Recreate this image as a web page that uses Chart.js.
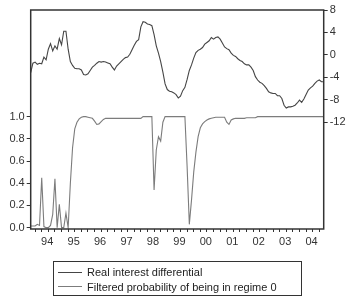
<!DOCTYPE html>
<html>
<head>
<meta charset="utf-8">
<script src="https://cdn.jsdelivr.net/npm/chart.js@4.4.1/dist/chart.umd.min.js"></script>
<style>
  html, body { margin: 0; padding: 0; background: #fff; }
  #wrap { position: relative; width: 356px; height: 297px; }
  #legend { position: absolute; left: 53px; top: 261px; width: 249px; height: 35px; box-sizing: border-box;
    border: 1px solid #333; padding-top: 3px; font: 11px "Liberation Sans", Arial, sans-serif; color: #222; }
  .item { display: flex; align-items: center; height: 14.5px; white-space: nowrap; }
  .swatch { width: 24px; height: 0; border-top: 1px solid; margin: 0 5px 0 4px; }
</style>
</head>
<body>
<div id="wrap">
  <canvas id="chart" width="356" height="297"></canvas>
  <div id="legend"></div>
</div>
<script>
// monthly observations, first one 1993M11
const startYear = 1993;
const startMonth = 11;

const yearLabels = ['94', '95', '96', '97', '98', '99', '00', '01', '02', '03', '04'];
const years = [1994, 1995, 1996, 1997, 1998, 1999, 2000, 2001, 2002, 2003, 2004];
const probTicks = [0, 0.2, 0.4, 0.6, 0.8, 1.0];
const irdTicks = [8, 4, 0, -4, -8, -12];

const irdValues = [
  -3.2, -1.5, -1.3, -1.7, -1.5, -1.6, -0.4, -0.9, 1.0, 2.0,
  0.7, 1.6, 1.0, 2.9, 1.8, 4.2, 4.2, 1.0, -1.2, -1.9,
  -2.4, -2.5, -2.5, -2.7, -3.5, -3.6, -3.4, -2.8, -2.2, -1.9,
  -1.5, -1.2, -1.3, -1.2, -1.3, -1.45,
  -1.6, -2.2, -2.7, -2.0, -1.6, -1.2, -0.8, -0.5, -0.4, 0.1,
  0.9, 1.7, 2.4, 2.7, 5.0, 5.9, 5.8, 5.5, 5.4, 5.2,
  3.6, 1.6, 0.3, -1.2, -3.1, -5.2, -6.2, -6.5, -6.6, -6.8,
  -7.1, -7.7, -7.4, -6.4, -5.8, -4.4, -2.8, -1.8, -0.6, 0.4,
  0.8, 1.0, 1.3, 1.9, 2.2, 2.5, 3.1, 2.8, 3.1, 3.2,
  2.8, 2.1, 1.4, 1.1, 0.9, 0.3, -0.1, -0.3, -0.7, -1.0,
  -1.2, -1.6, -1.8, -1.8, -2.2, -2.8, -3.9, -4.5, -4.9, -5.1,
  -5.5, -6.0, -6.6, -6.8, -6.9, -6.9, -7.3, -7.3, -7.8, -9.0,
  -9.5, -9.3, -9.3, -9.2, -9.0, -8.6, -8.1, -8.5, -7.9, -7.1,
  -6.3, -5.9, -5.6, -5.1, -4.7, -4.5, -4.8, -4.8
];

const probValues = [
  0.015, 0.015, 0.015, 0.03, 0.02, 0.45, 0.01, 0.0, 0.0, 0.02,
  0.12, 0.44, 0.0, 0.21, 0.0, 0.0, 0.13, 0.0,
  0.4, 0.72, 0.89, 0.95, 0.98, 0.995, 1.0, 1.0, 0.995, 0.99,
  0.985, 0.96, 0.93, 0.935, 0.955, 0.975, 0.985, 0.985,
  0.985, 0.985, 0.985, 0.985, 0.985, 0.985, 0.985, 0.985, 0.985, 0.985,
  0.985, 0.985, 0.985, 0.985, 0.985,
  1.0, 1.0, 1.0, 1.0, 1.0,
  0.34, 0.7, 0.82, 0.78, 0.95,
  1.0, 1.0, 1.0, 1.0, 1.0, 1.0, 1.0, 1.0, 1.0, 1.0,
  0.55, 0.03, 0.25, 0.5, 0.68, 0.82, 0.9, 0.935, 0.955, 0.97,
  0.98, 0.985, 0.99,
  0.995, 0.995, 0.995, 0.995, 0.995,
  0.95, 0.93, 0.97, 0.98,
  0.985, 0.985, 0.985, 0.985, 0.985,
  0.99, 0.99, 0.99, 0.99, 0.99,
  1.0, 1.0, 1.0, 1.0, 1.0, 1.0, 1.0, 1.0, 1.0, 1.0,
  1.0, 1.0, 1.0, 1.0, 1.0, 1.0, 1.0, 1.0, 1.0, 1.0,
  1.0, 1.0, 1.0, 1.0, 1.0, 1.0, 1.0, 1.0, 1.0, 1.0, 1.0
];

const months = irdValues.map((_, j) => startYear + (startMonth - 1 + j) / 12);
const yearCentre = (y) => y + 5.5 / 12;

const axisColor = '#333';
const tickFont = { family: '"Liberation Sans", Arial, sans-serif', size: 11 };

const frame = {
  id: 'frame',
  afterDraw(chart) {
    const { ctx, chartArea: a } = chart;
    ctx.save();
    ctx.strokeStyle = axisColor;
    ctx.lineWidth = 1.5;
    ctx.strokeRect(a.left, a.top, a.right - a.left, a.bottom - a.top);
    ctx.restore();
  },
};

const chart = new Chart(document.getElementById('chart'), {
  type: 'line',
  data: {
    datasets: [
      { label: 'Real interest differential', data: months.map((m, j) => ({ x: m, y: irdValues[j] })), yAxisID: 'yR',
        borderColor: '#454545', borderWidth: 1.1, pointRadius: 0, tension: 0 },
      { label: 'Filtered probability of being in regime 0', data: months.map((m, j) => ({ x: m, y: probValues[j] })), yAxisID: 'yL',
        borderColor: '#7c7c7c', borderWidth: 1.1, pointRadius: 0, tension: 0 },
    ],
  },
  options: {
    responsive: false,
    animation: false,
    devicePixelRatio: 1,
    layout: { padding: { top: 10, bottom: 48, left: 0, right: 0 } },
    plugins: { legend: { display: false }, tooltip: { enabled: false } },
    scales: {
      x: {
        type: 'linear',
        min: months[0],
        max: months[months.length - 1],
        border: { display: false },
        grid: { drawOnChartArea: false, tickLength: 3, tickColor: (c) => (c.tick && c.tick.label ? 'transparent' : axisColor) },
        afterBuildTicks: (scale) => {
          const ticks = [];
          years.forEach((y) => [0, 0.25, 0.5, 0.75].forEach((q) => ticks.push({ value: y + q })));
          years.forEach((y) => ticks.push({ value: yearCentre(y) }));
          scale.ticks = ticks;
        },
        afterFit: (scale) => { scale.height = 20; },
        ticks: {
          autoSkip: false, maxRotation: 0, padding: 3, color: axisColor, font: tickFont,
          callback: (value) => {
            const k = years.findIndex((y) => Math.abs(yearCentre(y) - value) < 1e-6);
            return k >= 0 ? yearLabels[k] : '';
          },
        },
      },
      yL: {
        position: 'left',
        min: -0.012,
        max: 1.961,
        border: { display: false },
        grid: { drawOnChartArea: false, tickLength: 4, color: axisColor },
        afterBuildTicks: (scale) => { scale.ticks = probTicks.map((v) => ({ value: v })); },
        afterFit: (scale) => { scale.width = 30.7; },
        ticks: { padding: 2, color: axisColor, font: tickFont, callback: (v) => v.toFixed(1) },
      },
      yR: {
        position: 'right',
        min: -31.1,
        max: 8,
        border: { display: false },
        grid: { drawOnChartArea: false, tickLength: 4, color: axisColor },
        afterBuildTicks: (scale) => { scale.ticks = irdTicks.map((v) => ({ value: v })); },
        afterFit: (scale) => { scale.width = 32.3; },
        ticks: { padding: 2, color: axisColor, font: tickFont },
      },
    },
  },
  plugins: [frame],
});

document.getElementById('legend').innerHTML = chart.data.datasets
  .map((d) => `<div class="item"><span class="swatch" style="border-color:${d.borderColor}"></span>${d.label}</div>`)
  .join('');
</script>
</body>
</html>
